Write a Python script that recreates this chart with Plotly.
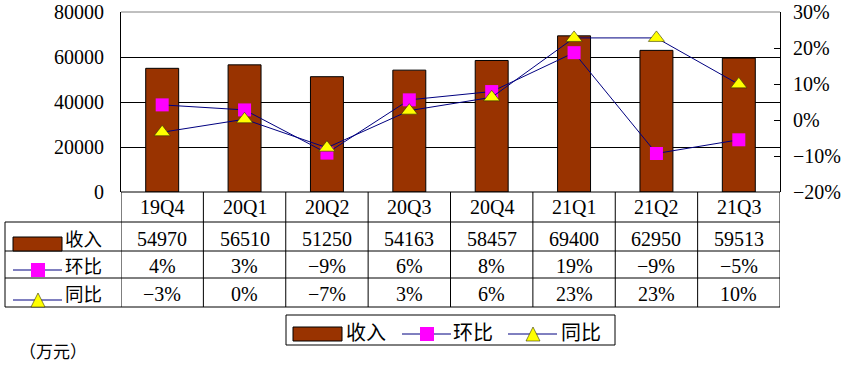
import plotly.graph_objects as go

categories = ["19Q4", "20Q1", "20Q2", "20Q3", "20Q4", "21Q1", "21Q2", "21Q3"]
revenue = [54970, 56510, 51250, 54163, 58457, 69400, 62950, 59513]
qoq = [0.042, 0.028, -0.092, 0.056, 0.079, 0.187, -0.093, -0.055]
yoy = [-0.034, 0.002, -0.077, 0.026, 0.063, 0.228, 0.228, 0.099]
qoq_labels = ["4%", "3%", "-9%", "6%", "8%", "19%", "-9%", "-5%"]
yoy_labels = ["-3%", "0%", "-7%", "3%", "6%", "23%", "23%", "10%"]
series_names = ["收入", "环比", "同比"]
unit_label = "（万元）"

W, H = 847, 372
BAR = "#993300"
LINE = "#000080"
MAG = "#FF00FF"
YEL = "#FFFF00"
FONT = "Liberation Serif, 'Noto Sans CJK SC', serif"
CJK = "'Noto Sans CJK SC', sans-serif"
FS = 20
FSC = 18.5


def px(x):
    return x / W


def py(y):
    return 1 - y / H


PL, PR, PT, PB = 121, 780, 12, 192
ROWS = [192, 222, 251, 278, 307]
TL = 5

fig = go.Figure()
fig.add_trace(go.Bar(x=categories, y=revenue, name=series_names[0], width=0.4,
                     marker=dict(color=BAR, line=dict(color="black", width=1))))
fig.add_trace(go.Scatter(x=categories, y=qoq, name=series_names[1], yaxis="y2",
                         mode="lines+markers", line=dict(color=LINE, width=1),
                         marker=dict(symbol="square", size=13, color=MAG,
                                     line=dict(width=0))))
fig.add_trace(go.Scatter(x=categories, y=yoy, name=series_names[2], yaxis="y2",
                         mode="lines+markers", line=dict(color=LINE, width=1),
                         marker=dict(symbol="triangle-up", size=14, color=YEL,
                                     line=dict(color="#333300", width=0.6))))

shapes = []
ann = []
black = dict(color="black", width=1)

# top border (gray)
shapes.append(dict(type="line", xref="paper", yref="paper", x0=px(PL), x1=px(PR),
                   y0=py(PT), y1=py(PT), line=dict(color="#808080", width=1), layer="above"))
# table horizontal lines
shapes.append(dict(type="line", xref="paper", yref="paper", x0=px(PL), x1=px(PR),
                   y0=py(ROWS[0]), y1=py(ROWS[0]), line=black))
for yy in ROWS[1:]:
    shapes.append(dict(type="line", xref="paper", yref="paper", x0=px(TL), x1=px(PR),
                       y0=py(yy), y1=py(yy), line=black))
# vertical lines
shapes.append(dict(type="line", xref="paper", yref="paper", x0=px(TL), x1=px(TL),
                   y0=py(ROWS[1]), y1=py(ROWS[-1]), line=black))
for k in range(len(categories) + 1):
    shapes.append(dict(type="line", xref="x", yref="paper", x0=k - 0.5, x1=k - 0.5,
                       y0=py(ROWS[0]), y1=py(ROWS[-1]), line=black))

# cell texts
rows_text = [categories, [str(v) for v in revenue], qoq_labels, yoy_labels]
row_centers = [207, 239, 266, 294]
for r, (vals, yc) in enumerate(zip(rows_text, row_centers)):
    for c, t in enumerate(vals):
        ann.append(dict(x=categories[c], xref="x", y=py(yc), yref="paper", text=t.replace("-", "−"),
                        showarrow=False, font=dict(family=FONT, size=FS, color="black"),
                        xanchor="center", yanchor="middle"))


# row header symbols
def bar_sym(x0, y0):
    shapes.append(dict(type="rect", xref="paper", yref="paper", x0=px(x0), x1=px(x0 + 49),
                       y0=py(y0), y1=py(y0 + 14), fillcolor=BAR, line=dict(color="black", width=1)))


def sq_sym(x0, yc):
    shapes.append(dict(type="line", xref="paper", yref="paper", x0=px(x0), x1=px(x0 + 49),
                       y0=py(yc), y1=py(yc), line=dict(color=LINE, width=1)))
    shapes.append(dict(type="rect", xref="paper", yref="paper", x0=px(x0 + 18), x1=px(x0 + 32),
                       y0=py(yc - 7), y1=py(yc + 7), fillcolor=MAG, line=dict(width=0)))


def tri_sym(x0, yc):
    shapes.append(dict(type="line", xref="paper", yref="paper", x0=px(x0), x1=px(x0 + 49),
                       y0=py(yc), y1=py(yc), line=dict(color=LINE, width=1)))
    cx = x0 + 25
    path = "M {} {} L {} {} L {} {} Z".format(px(cx - 7), py(yc + 7), px(cx + 7), py(yc + 7),
                                               px(cx), py(yc - 7))
    shapes.append(dict(type="path", xref="paper", yref="paper", path=path, fillcolor=YEL,
                       line=dict(color="#333300", width=0.6)))


bar_sym(13, 237)
sq_sym(13, 270)
tri_sym(13, 300)
for name, yc in zip(series_names, [237.5, 265, 293]):
    ann.append(dict(x=px(63), xref="paper", y=py(yc), yref="paper", text=name, showarrow=False,
                    font=dict(family=CJK, size=FSC, color="black"), xanchor="left", yanchor="middle"))

# legend box
shapes.append(dict(type="rect", xref="paper", yref="paper", x0=px(286), x1=px(615),
                   y0=py(315), y1=py(345), line=black, fillcolor="rgba(0,0,0,0)"))
bar_sym(293, 327)
sq_sym(402, 334)
tri_sym(508, 334)
for name, xl in zip(series_names, [344, 451, 559]):
    ann.append(dict(x=px(xl), xref="paper", y=py(331), yref="paper", text=name, showarrow=False,
                    font=dict(family=CJK, size=FS, color="black"), xanchor="left", yanchor="middle"))

ann.append(dict(x=px(17), xref="paper", y=py(350), yref="paper", text=unit_label, showarrow=False,
                font=dict(family=CJK, size=17, color="black"), xanchor="left", yanchor="middle"))

fig.update_layout(
    width=W, height=H, autosize=False,
    margin=dict(l=0, r=0, t=0, b=0, pad=0),
    paper_bgcolor="white", plot_bgcolor="white",
    showlegend=False, bargap=0.6,
    font=dict(family=FONT, size=FS, color="black"),
    xaxis=dict(domain=[px(PL), px(PR)], range=[-0.5, 7.5], showticklabels=False,
               showgrid=False, zeroline=False, showline=False, ticks="", automargin=False),
    yaxis=dict(domain=[py(PB), py(PT)], range=[0, 80000], dtick=20000, tickformat="d",
               showgrid=True, automargin=False,
               gridcolor="black", gridwidth=1, zeroline=False, showline=True,
               linecolor="black", linewidth=1, ticks="", ticklabelstandoff=12,
               tickfont=dict(family=FONT, size=FS, color="black")),
    yaxis2=dict(overlaying="y", side="right", range=[-0.2, 0.3], dtick=0.1, automargin=False,
                tickformat=".0%", showgrid=False, zeroline=False, showline=True,
                linecolor="black", linewidth=1, ticks="inside", ticklen=6,
                tickcolor="black", ticklabelstandoff=8,
                tickfont=dict(family=FONT, size=FS, color="black")),
    shapes=shapes, annotations=ann,
)

fig.write_html("out.html", config={"displayModeBar": False},
               post_script="document.body.style.margin='0';")
